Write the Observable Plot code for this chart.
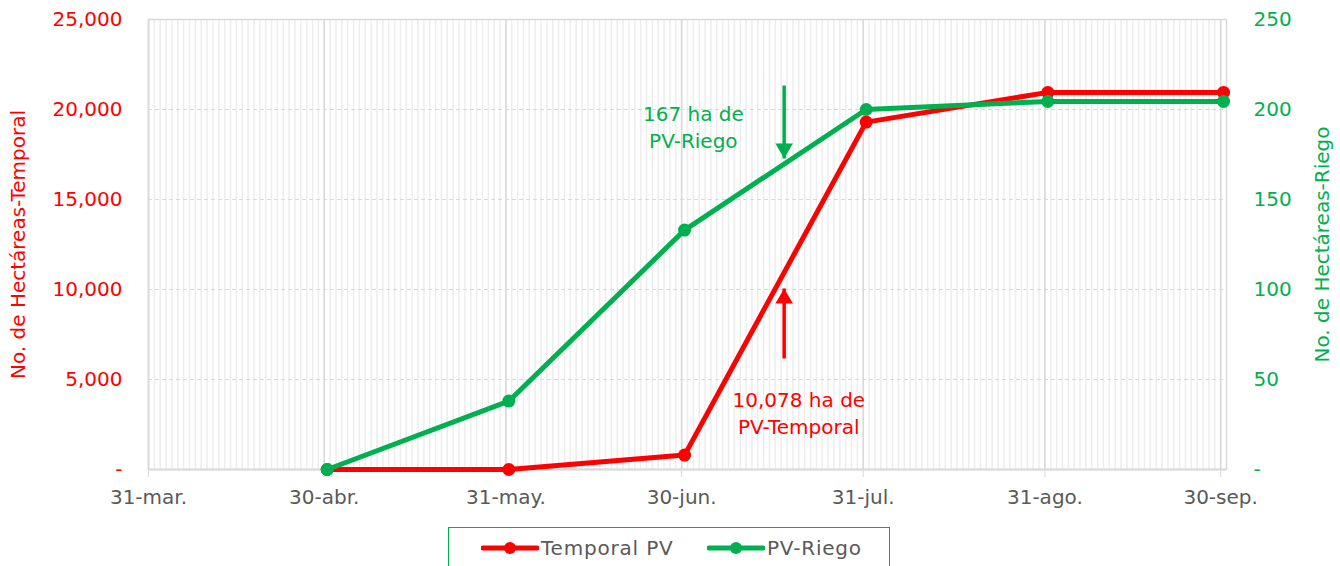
<!DOCTYPE html>
<html><head><meta charset="utf-8">
<script src="https://cdn.jsdelivr.net/npm/d3@7"></script>
<script src="https://cdn.jsdelivr.net/npm/@observablehq/plot@0.6"></script>
<style>
body{margin:0;background:#fff;font-family:"DejaVu Sans",sans-serif;}
#wrap{position:relative;width:1340px;height:566px;overflow:hidden;}
#legend{position:absolute;left:448px;top:527px;width:442px;height:60px;border:1.5px solid #00b050;box-sizing:border-box;}
#legend .item{position:absolute;top:8px;display:flex;align-items:center;color:#595959;font-size:20px;letter-spacing:0.8px;}
</style></head><body><div id="wrap"></div>
<script>
// ---- data ----
const dates = ["2023-04-30","2023-05-31","2023-06-30","2023-07-31","2023-08-31","2023-09-30"];
const temporal = [0, 0, 800, 19300, 20950, 20950];
const riego = [0, 38, 133, 200, 204.5, 204.5];
const tickDates = ["2023-03-31","2023-04-30","2023-05-31","2023-06-30","2023-07-31","2023-08-31","2023-09-30"];
const monthNames = ["ene.","feb.","mar.","abr.","may.","jun.","jul.","ago.","sep.","oct.","nov.","dic."];
const leftTicks = [0, 5000, 10000, 15000, 20000, 25000];
const rightTicks = [0, 50, 100, 150, 200, 250];
const seriesNames = ["Temporal PV", "PV-Riego"];
const seriesColors = ["#ff0000", "#00b050"];
const axisTitles = ["No. de Hectáreas-Temporal", "No. de Hectáreas-Riego"];
const noteTexts = ["167 ha de\nPV-Riego", "10,078 ha de\nPV-Temporal"];
const noteDates = ["2023-07-02", "2023-07-20"];
const noteValues = [19111, 3222];
const arrowDate = "2023-07-17T12:00";
const arrowFrom = [21333, 6167];
const arrowTo = [17278, 10056];

// ---- build ----
const parse = s => new Date(s + (s.length === 10 ? "T00:00Z" : "Z"));
const pointDate = s => d3.utcHour.offset(parse(s), 12);
const R = 100; // right axis factor
const tData = dates.map((d, i) => ({x: pointDate(d), y: temporal[i]}));
const rData = dates.map((d, i) => ({x: pointDate(d), y: riego[i] * R}));
const start = parse(tickDates[0]);
const end = d3.utcDay.offset(parse(tickDates[tickDates.length - 1]), 1);
const days = d3.utcDays(start, end);
const ticks = tickDates.map(parse);
const fmtDate = d => `${d.getUTCDate()}-${monthNames[d.getUTCMonth()]}`;
const fmtNum = v => v === 0 ? "-" : d3.format(",")(v);
const notes = noteTexts.map((t, i) => ({t, x: parse(noteDates[i]), y: noteValues[i], c: seriesColors[1 - i]}));
const arrows = arrowFrom.map((a, i) => ({x: parse(arrowDate), y1: a, y2: arrowTo[i], c: seriesColors[1 - i], down: a > arrowTo[i]}));
const font = "DejaVu Sans";

const chart = Plot.plot({
  width: 1340, height: 520,
  marginLeft: 148, marginRight: 114, marginTop: 19, marginBottom: 51,
  style: {fontFamily: font, fontSize: "20px", background: "white", overflow: "visible"},
  x: {type: "utc", domain: [start, end]},
  y: {domain: [0, 25000]},
  marks: [
    Plot.ruleX(days, {stroke: "#ededed", strokeWidth: 1.5}),
    Plot.ruleY(leftTicks, {stroke: "#d9d9d9", strokeDasharray: "4,3"}),
    Plot.ruleX(ticks, {stroke: "#d9d9d9", strokeWidth: 1.5}),
    Plot.frame({stroke: "#d9d9d9", strokeWidth: 1.5}),
    Plot.ruleY([0], {stroke: "#d9d9d9", strokeWidth: 2}),
    Plot.axisX({ticks, tickFormat: fmtDate, tickSize: 8, tickPadding: 12, stroke: "#d9d9d9", fill: "#595959", fontSize: 20, label: null}),
    Plot.axisY({anchor: "left", ticks: leftTicks, tickFormat: fmtNum, tickSize: 0, tickPadding: 26, fill: "#ff0000", fontSize: 20, label: null, style: {letterSpacing: "0.6px"}}),
    Plot.axisY({anchor: "right", ticks: rightTicks.map(v => v * R), tickFormat: v => fmtNum(v / R), tickSize: 0, tickPadding: 27, fill: "#00b050", fontSize: 20, label: null}),
    Plot.line(tData, {x: "x", y: "y", stroke: seriesColors[0], strokeWidth: 5}),
    Plot.dot(tData, {x: "x", y: "y", fill: seriesColors[0], r: 6.5}),
    Plot.line(rData, {x: "x", y: "y", stroke: seriesColors[1], strokeWidth: 5}),
    Plot.dot(rData, {x: "x", y: "y", fill: seriesColors[1], r: 6.5}),
    Plot.link(arrows, {x1: "x", x2: "x", y1: "y1", y2: "y2", stroke: "c", strokeWidth: 3.5}),
    Plot.dot(arrows.filter(d => d.down), {x: "x", y: "y2", symbol: "triangle", fill: "c", r: 6.5, rotate: 180, dy: -10}),
    Plot.dot(arrows.filter(d => !d.down), {x: "x", y: "y2", symbol: "triangle", fill: "c", r: 6.5, dy: 10}),
    Plot.text(notes, {x: "x", y: "y", text: "t", fill: "c", fontSize: 20, lineHeight: 1.35, lineAnchor: "middle", style: {letterSpacing: "0.3px"}}),
    Plot.text([axisTitles[0]], {frameAnchor: "left", dx: -130, rotate: -90, fill: "#ff0000", fontSize: 20, textAnchor: "middle", style: {letterSpacing: "1px"}}),
    Plot.text([axisTitles[1]], {frameAnchor: "right", dx: 96, rotate: -90, fill: "#00b050", fontSize: 20, textAnchor: "middle", style: {letterSpacing: "1px"}})
  ]
});
const wrap = document.getElementById("wrap");
wrap.appendChild(chart);

// legend
const leg = document.createElement("div");
leg.id = "legend";
const legLeft = [32, 258];
seriesNames.forEach((n, i) => {
  const it = document.createElement("div");
  it.className = "item";
  it.style.left = legLeft[i] + "px";
  it.innerHTML = `<svg width="58" height="20"><line x1="2" x2="56" y1="10" y2="10" stroke="${seriesColors[i]}" stroke-width="5" stroke-linecap="round"/><circle cx="29" cy="10" r="6" fill="${seriesColors[i]}"/></svg><span style="margin-left:2px">${n}</span>`;
  leg.appendChild(it);
});
wrap.appendChild(leg);
</script></body></html>
